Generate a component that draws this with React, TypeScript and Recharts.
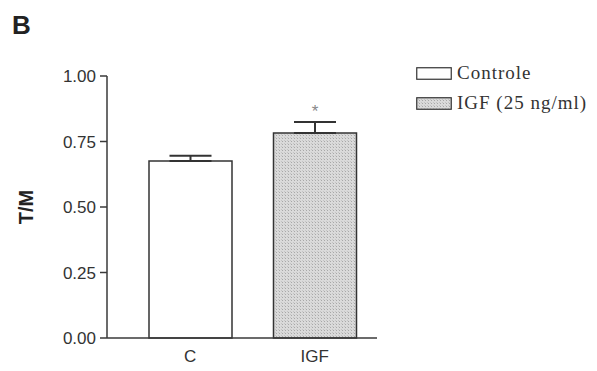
import React from "react";
import {
  BarChart,
  Bar,
  XAxis,
  YAxis,
  ErrorBar,
  Cell,
  LabelList,
} from "recharts";

const groups = ["C", "IGF"];
const legendNames = ["Controle", "IGF (25 ng/ml)"];
const means = [0.676, 0.782];
const sem = [0.02, 0.042];
const marks = ["", "*"];
const yTicks = [0, 0.25, 0.5, 0.75, 1.0];

const fills = ["#ffffff", "url(#stipple)"];

const data = groups.map((g, i) => ({
  group: g,
  ratio: means[i],
  err: [0, sem[i]],
  sig: marks[i],
}));

const axisColor = "#3a3a3a";
const sans = "'Liberation Sans', Arial, sans-serif";
const serif = "'Liberation Serif', 'Times New Roman', serif";

function LegendBox() {
  return (
    <div
      style={{
        position: "absolute",
        left: 416,
        top: 58,
        fontFamily: serif,
        fontSize: 19,
        color: "#333",
        letterSpacing: 1,
      }}
    >
      {legendNames.map((name, i) => (
        <div key={name} style={{ display: "flex", alignItems: "center", height: 30 }}>
          <svg width={36} height={13} style={{ marginRight: 5 }}>
            <defs>
              <pattern id={"lg" + i} width="3" height="3" patternUnits="userSpaceOnUse">
                <rect width="3" height="3" fill="#dadada" />
                <rect width="1" height="1" fill="#a8a8a8" />
                <rect x="2" y="2" width="1" height="1" fill="#c4c4c4" />
              </pattern>
            </defs>
            <rect
              x={0.75}
              y={0.75}
              width={34.5}
              height={11.5}
              fill={i === 0 ? "#ffffff" : "url(#lg" + i + ")"}
              stroke="#333"
              strokeWidth={1.2}
            />
          </svg>
          <span>{name}</span>
        </div>
      ))}
    </div>
  );
}

export default function App() {
  return (
    <div style={{ position: "fixed", left: 0, top: 0, width: 597, height: 371, background: "#fff" }}>
      <div style={{ position: "absolute", left: 12, top: 10, fontFamily: sans, fontWeight: 700, fontSize: 26, color: "#222" }}>
        B
      </div>
      <BarChart
        width={597}
        height={371}
        data={data}
        margin={{ top: 76, right: 220, left: 0, bottom: 6 }}
      >
        <defs>
          <pattern id="stipple" width="3" height="3" patternUnits="userSpaceOnUse">
            <rect width="3" height="3" fill="#dadada" />
            <rect width="1" height="1" fill="#a8a8a8" />
            <rect x="2" y="2" width="1" height="1" fill="#c4c4c4" />
          </pattern>
        </defs>
        <XAxis
          dataKey="group"
          height={27}
          padding={{ left: 21, right: 0 }}
          tickLine={false}
          stroke={axisColor}
          strokeWidth={1.5}
          tick={{ fill: "#333", fontFamily: sans, fontSize: 17 }}
          tickMargin={6}
        />
        <YAxis
          width={107}
          domain={[0, 1]}
          ticks={yTicks}
          tickFormatter={(v: number) => v.toFixed(2)}
          stroke={axisColor}
          strokeWidth={1.5}
          tickSize={7}
          tickMargin={4}
          tick={{ fill: "#333", fontFamily: sans, fontSize: 17 }}
          label={{
            value: "T/M",
            angle: -90,
            position: "insideLeft",
            offset: 26,
            style: { fontFamily: sans, fontWeight: 700, fontSize: 20, fill: "#222", textAnchor: "middle" },
          }}
        />
        <Bar
          dataKey="ratio"
          barSize={83}
          stroke="#333"
          strokeWidth={1.5}
          isAnimationActive={false}
        >
          {data.map((d, i) => (
            <Cell key={d.group} fill={fills[i]} />
          ))}
          <ErrorBar dataKey="err" width={21} stroke="#333" strokeWidth={2} direction="y" />
          <LabelList
            dataKey="sig"
            position="top"
            offset={16}
            style={{ fill: "#888", fontFamily: sans, fontSize: 17 }}
          />
        </Bar>
      </BarChart>
      <LegendBox />
    </div>
  );
}
